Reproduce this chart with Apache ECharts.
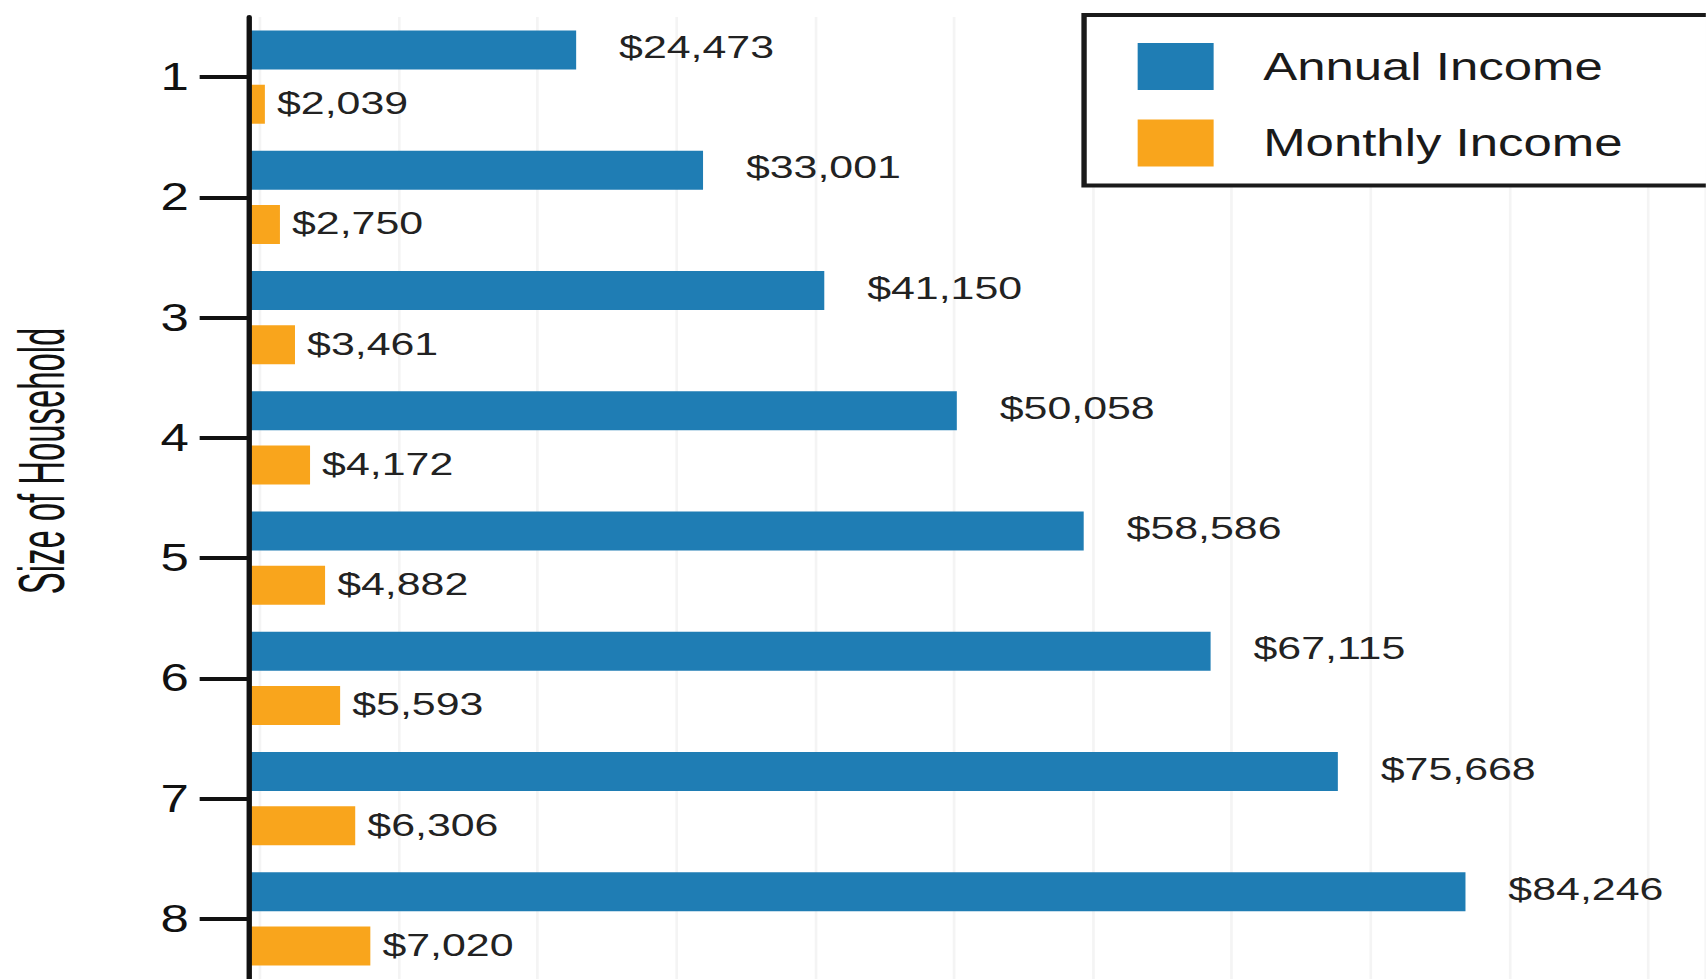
<!DOCTYPE html>
<html>
<head>
<meta charset="utf-8">
<script src="https://cdn.jsdelivr.net/npm/echarts@6/dist/echarts.min.js"></script>
<style>
  html, body { margin: 0; padding: 0; background: #ffffff; overflow: hidden; }
  #wrap { width: 1706px; height: 979px; overflow: hidden; position: relative; }
  /* the reference picture is stretched horizontally; reproduce that stretch */
  #chart { width: 1273px; height: 979px; transform: scaleX(1.34); transform-origin: 0 0; }
</style>
</head>
<body>
<div id="wrap"><div id="chart"></div></div>
<script>
const categories = ['1', '2', '3', '4', '5', '6', '7', '8'];
const annualIncome = [24473, 33001, 41150, 50058, 58586, 67115, 75668, 84246];
const monthlyIncome = [2039, 2750, 3461, 4172, 4882, 5593, 6306, 7020];
const seriesNames = ['Annual Income', 'Monthly Income'];
const axisTitle = 'Size of Household';

const FONT = "'Liberation Sans', Arial, Helvetica, sans-serif";
const BLUE = '#1f7db4';
const ORANGE = '#f9a51c';
const money = v => '$' + Number(v).toLocaleString('en-US');

const chart = echarts.init(document.getElementById('chart'), null, { renderer: 'svg' });
chart.setOption({
  backgroundColor: '#ffffff',
  animation: false,
  textStyle: { fontFamily: FONT },
  grid: [
    { left: 186, right: 0, top: 17, bottom: 0, containLabel: false },
    { left: 194, right: 0, top: 17, bottom: 0, containLabel: false }
  ],
  legend: {
    orient: 'vertical',
    left: 809,
    top: 15,
    data: seriesNames,
    icon: 'rect',
    itemWidth: 56.7,
    itemHeight: 47,
    itemGap: 29.5,
    padding: [28, 80, 19, 40],
    borderColor: '#1a1a1a',
    borderWidth: 4,
    backgroundColor: '#ffffff',
    selectedMode: false,
    textStyle: { fontSize: 38, color: '#1a1a1a', fontFamily: FONT, padding: [0, 0, 0, 32] }
  },
  xAxis: [
    { type: 'value', gridIndex: 0, min: 2500, max: 100400, show: false },
    { type: 'value', gridIndex: 0, position: 'top', min: 1300, max: 70100, show: false },
    {
      type: 'value', gridIndex: 1, min: 0, max: 10.415, interval: 1,
      axisLine: { show: false }, axisTick: { show: false }, axisLabel: { show: false },
      splitLine: { show: true, lineStyle: { color: '#f4f4f4', width: 2 } }
    }
  ],
  yAxis: [
    {
      type: 'category', gridIndex: 0, data: categories, inverse: true,
      axisLine: { show: true, lineStyle: { color: '#111111', width: 4 } },
      axisTick: { show: true, alignWithLabel: true, length: 37, lineStyle: { color: '#111111', width: 4 } },
      axisLabel: { fontSize: 38, color: '#111111', margin: 45, fontFamily: FONT },
      splitLine: { show: false },
      z: 5
    },
    { type: 'category', gridIndex: 1, data: categories, inverse: true, show: false }
  ],
  graphic: [
    {
      type: 'text',
      x: 30.6,
      y: 461,
      rotation: Math.PI / 2,
      scaleX: 0.67,
      style: {
        text: axisTitle,
        fontSize: 49,
        fontFamily: FONT,
        fill: '#111111',
        align: 'center',
        verticalAlign: 'middle'
      }
    }
  ],
  series: [
    {
      name: seriesNames[0],
      type: 'bar',
      xAxisIndex: 0,
      yAxisIndex: 0,
      data: annualIncome,
      barWidth: 39,
      barGap: '39%',
      itemStyle: { color: BLUE },
      clip: true,
      label: {
        show: true, position: 'right', distance: 32, offset: [0, -3],
        fontSize: 32, color: '#222222', fontFamily: FONT,
        formatter: p => money(p.value)
      }
    },
    {
      name: seriesNames[1],
      type: 'bar',
      xAxisIndex: 1,
      yAxisIndex: 0,
      data: monthlyIncome,
      barWidth: 39,
      barGap: '39%',
      itemStyle: { color: ORANGE },
      clip: true,
      label: {
        show: true, position: 'right', distance: 9, offset: [0, -1],
        fontSize: 32, color: '#222222', fontFamily: FONT,
        formatter: p => money(p.value)
      }
    }
  ]
});
</script>
</body>
</html>
